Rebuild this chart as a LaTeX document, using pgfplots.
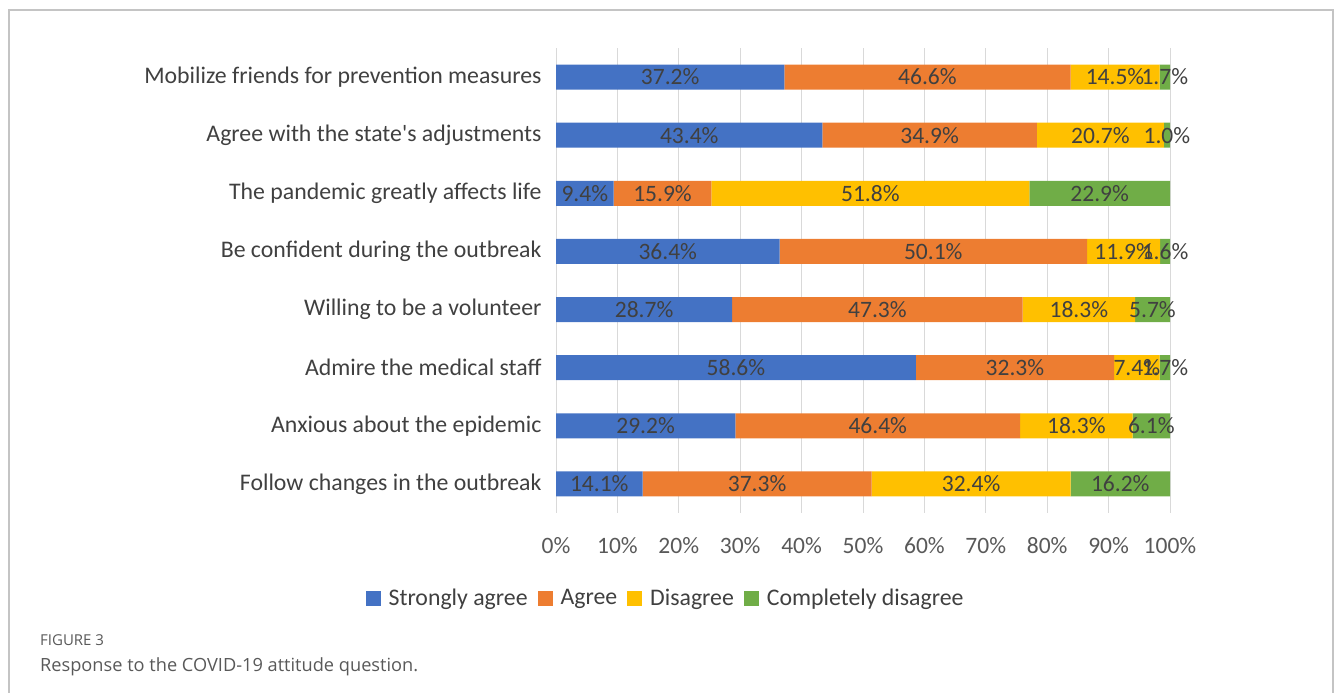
\documentclass[border=0pt]{standalone}
\usepackage{pgfplots}
\usepackage{pgfplotstable}
\pgfplotsset{compat=1.18}
\usepackage{fontspec}
\setmainfont{Carlito}
\newfontfamily\capfont{Open Sans}
\definecolor{cBlue}{HTML}{4472C4}
\definecolor{cOrange}{HTML}{ED7D31}
\definecolor{cYellow}{HTML}{FFC000}
\definecolor{cGreen}{HTML}{70AD47}
\definecolor{txt}{HTML}{404040}
\definecolor{tick}{HTML}{595959}
\definecolor{gridc}{HTML}{D9D9D9}
\definecolor{framec}{HTML}{C4C4C4}
\pgfplotstableread{
idx sa ag di cd
0 37.2 46.6 14.5 1.7
1 43.4 34.9 20.7 1.0
2 9.4 15.9 51.8 22.9
3 36.4 50.1 11.9 1.6
4 28.7 47.3 18.3 5.7
5 58.6 32.3 7.4 1.7
6 29.2 46.4 18.3 6.1
7 14.1 37.3 32.4 16.2
}\datatable
\newcommand{\cfont}{\fontsize{23.5bp}{28bp}\selectfont}
\begin{document}
\begin{tikzpicture}
\useasboundingbox (0,0) rectangle (1335bp,693bp);
\draw[framec, line width=2bp] (9bp,-2bp) -- (9bp,683bp) -- (1333bp,683bp) -- (1333bp,-2bp);
\begin{axis}[
  at={(556bp,180bp)}, anchor=south west,
  scale only axis, width=614bp, height=465bp,
  xbar stacked, bar width=25bp,
  xmin=0, xmax=100,
  ymin=-0.5, ymax=7.5, y dir=reverse,
  xtick={0,10,...,100},
  xticklabels={0\%,10\%,20\%,30\%,40\%,50\%,60\%,70\%,80\%,90\%,100\%},
  ytick={0,...,7},
  yticklabels={Mobilize friends for prevention measures,
    Agree with the state\textquotesingle s adjustments,
    The pandemic greatly affects life,
    Be confident during the outbreak,
    Willing to be a volunteer,
    Admire the medical staff,
    Anxious about the epidemic,
    Follow changes in the outbreak},
  xmajorgrids, grid style={gridc, line width=1bp},
  axis line style={draw=none},
  major tick length=0pt,
  /pgf/number format/assume math mode=true,
  xticklabel style={font=\cfont, text=tick, yshift=-21bp},
  yticklabel style={font=\fontsize{23.8bp}{28bp}\selectfont, text=txt, xshift=-11bp},
  point meta=explicit,
  nodes near coords={\pgfmathprintnumber[fixed,fixed zerofill,precision=1]{\pgfplotspointmeta}\%},
  every node near coord/.append style={font=\cfont, text=txt},
  legend columns=4,
  legend style={at={(0.1785,-0.183)}, anchor=center, draw=none,
    font=\fontsize{23.8bp}{28bp}\selectfont, text=txt,
    /tikz/every even column/.append style={column sep=8bp}},
  legend image code/.code={\fill[#1] (0bp,-7.5bp) rectangle (15bp,7.5bp); \path (21bp,0bp);},
]
\addplot[fill=cBlue, draw=none] table[x=sa, y=idx, meta=sa] \datatable;
\addplot[fill=cOrange, draw=none] table[x=ag, y=idx, meta=ag] \datatable;
\addplot[fill=cYellow, draw=none] table[x=di, y=idx, meta=di] \datatable;
\addplot[fill=cGreen, draw=none] table[x=cd, y=idx, meta=cd] \datatable;
\legend{Strongly agree, Agree, Disagree, Completely disagree}
\end{axis}
\node[anchor=base west, inner sep=0, text=tick] at (40bp,47bp) {\capfont\fontsize{15bp}{17bp}\selectfont FIGURE 3};
\node[anchor=base west, inner sep=0, text=tick] at (40bp,22bp) {\capfont\fontsize{18.2bp}{22bp}\selectfont Response to the COVID-19 attitude question.};
\end{tikzpicture}
\end{document}
